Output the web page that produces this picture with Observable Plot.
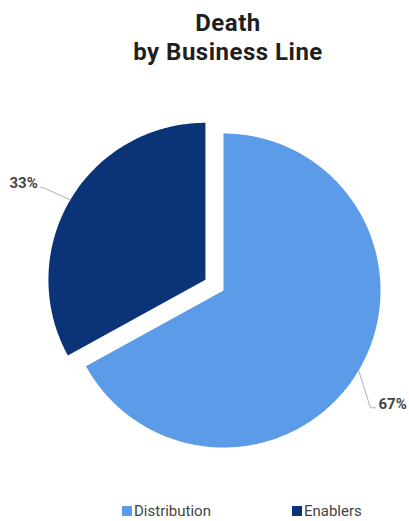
<!DOCTYPE html>
<html><head><meta charset="utf-8">
<script src="https://cdn.jsdelivr.net/npm/d3@7"></script>
<script src="https://cdn.jsdelivr.net/npm/@observablehq/plot@0.6"></script>
<style>
body{margin:0;background:#fff;font-family:Roboto,sans-serif;width:409px;height:521px;overflow:hidden;position:relative}
.title{position:absolute;left:28px;width:400px;height:26px;font-weight:700;font-size:24px;letter-spacing:0.5px;line-height:26px;text-align:center;color:#1f1f1f;white-space:nowrap}
#t1{top:10px}
#t2{top:39px}
#chart{position:absolute;top:80px;left:0}
#legend{position:absolute;top:500px;left:0;width:409px}
.lg-swatches-wrap{min-height:0 !important;height:22px;padding-left:122px;justify-content:flex-start}
.lg-swatch{margin-right:0 !important}
.lg-swatch + .lg-swatch{margin-left:81px !important}
.lg-swatch > svg{margin-right:2px !important}
</style></head><body>
<div class="title" id="t1">Death</div>
<div class="title" id="t2">by Business Line</div>
<div id="chart"></div>
<div id="legend"></div>
<script>
const categories = ["Distribution", "Enablers"];
const shares = [67, 33];
const labels = ["67%", "33%"];
const colors = ["#5b9be8", "#0b3478"];
const explodedSlice = [false, true];

// layout
const W = 409, H = 420, cx = 223, cy = 210, R = 157, explode = 21;
const labelLayout = {
  Distribution: {shift: 8, lead: 31, hlen: 5},
  Enablers: {shift: -1, lead: 30, hlen: 2}
};
const rad = Math.PI / 180;

const arcs = d3.pie().sort(null).value(d => d)(shares);
const polys = [], leaders = [], texts = [];
arcs.forEach((p, i) => {
  const cat = categories[i];
  const mid = (p.startAngle + p.endAngle) / 2;
  const off = explodedSlice[i] ? explode : 0;
  const ox = cx + off * Math.sin(mid), oy = cy - off * Math.cos(mid);
  polys.push({category: cat, x: ox, y: oy});
  const n = Math.ceil((p.endAngle - p.startAngle) / 0.01);
  for (let k = 0; k <= n; k++) {
    const a = p.startAngle + (p.endAngle - p.startAngle) * k / n;
    polys.push({category: cat, x: ox + R * Math.sin(a), y: oy - R * Math.cos(a)});
  }
  const L = labelLayout[cat];
  const side = Math.sin(mid) >= 0 ? 1 : -1;
  const sx = ox + R * Math.sin(mid), sy = oy - R * Math.cos(mid);
  const ea = mid + L.shift * rad;
  const ex = ox + (R + L.lead) * Math.sin(ea), ey = oy - (R + L.lead) * Math.cos(ea);
  const hx = ex + side * L.hlen;
  leaders.push({category: cat, x: sx, y: sy}, {category: cat, x: ex, y: ey}, {category: cat, x: hx, y: ey});
  texts.push({text: labels[i], x: hx + side * 3, y: ey + 1, side});
});

const chart = Plot.plot({
  width: W, height: H, margin: 0,
  style: {fontFamily: "Roboto, sans-serif", background: "white"},
  x: {domain: [0, W], range: [0, W], axis: null},
  y: {domain: [0, H], range: [0, H], axis: null},
  color: {domain: categories, range: colors},
  marks: [
    Plot.line(polys, {x: "x", y: "y", z: "category", fill: "category", stroke: null, curve: "linear-closed"}),
    Plot.line(leaders, {x: "x", y: "y", z: "category", stroke: "#b0b0b0", strokeWidth: 1}),
    Plot.text(texts, {filter: d => d.side > 0, x: "x", y: "y", text: "text", textAnchor: "start", lineAnchor: "bottom", fontSize: 15, fontWeight: "bold", fill: "#444"}),
    Plot.text(texts, {filter: d => d.side < 0, x: "x", y: "y", text: "text", textAnchor: "end", lineAnchor: "bottom", fontSize: 15, fontWeight: "bold", fill: "#444"})
  ]
});
document.getElementById("chart").appendChild(chart);

const legend = Plot.legend({
  color: {domain: categories, range: colors},
  legend: "swatches", swatchSize: 10, className: "lg",
  style: {fontSize: "15px", fontFamily: "Roboto, sans-serif", color: "#444"}
});
document.getElementById("legend").appendChild(legend);
</script>
</body></html>
